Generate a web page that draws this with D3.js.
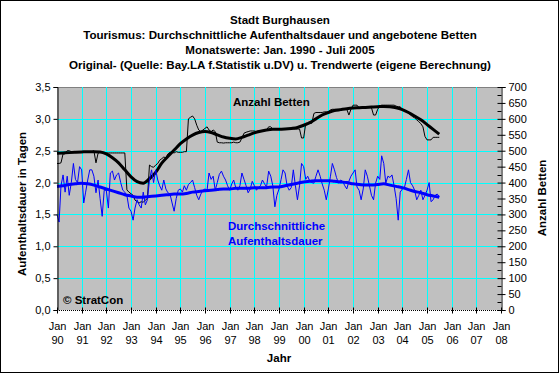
<!DOCTYPE html>
<html><head><meta charset="utf-8">
<script src="https://cdn.jsdelivr.net/npm/d3@7"></script>
<style>
body{margin:0;background:#fff}
svg{display:block}
text{font-family:"Liberation Sans",Arial,sans-serif}
</style>
</head><body>
<svg id="chart" width="560" height="374"></svg>
<script>
// ---------- DATA ----------
const titleLines = [
  "Stadt Burghausen",
  "Tourismus: Durchschnittliche Aufenthaltsdauer und angebotene Betten",
  "Monatswerte: Jan. 1990 - Juli 2005",
  "Original- (Quelle: Bay.LA f.Statistik u.DV) u. Trendwerte (eigene Berechnung)"
];
const startDate = new Date(1990, 0, 1);
// monthly average length of stay (days), Jan 1990 - Jul 2005
const dauer = [
  1.50,1.38,1.95,2.12,1.85,2.10,1.80,2.00,2.30,2.05,2.00,2.25,
  2.20,1.68,1.85,2.04,2.20,2.20,2.10,1.84,2.04,1.75,1.47,1.88,
  1.88,1.60,2.15,2.18,2.04,2.12,2.15,2.00,1.88,1.85,1.80,1.60,
  1.55,1.41,1.60,1.73,1.65,1.60,1.85,1.65,1.73,2.04,2.20,2.00,
  2.20,2.04,1.95,1.88,2.04,1.90,1.84,1.82,1.68,1.55,1.75,1.88,
  1.90,1.85,1.95,1.88,1.97,2.00,2.04,1.92,1.80,1.73,1.82,1.88,
  1.90,1.88,2.15,2.05,2.10,1.88,2.00,2.13,2.18,2.10,2.04,1.95,
  1.88,1.98,2.04,1.92,1.88,1.95,2.15,2.05,1.95,1.84,1.90,2.02,
  1.95,1.88,1.92,1.95,2.04,1.98,1.93,2.18,2.10,1.95,1.62,1.80,
  1.90,2.05,2.20,2.15,1.95,1.88,1.92,2.20,1.95,1.73,1.95,2.30,
  2.25,2.05,2.10,2.02,2.00,1.99,2.10,2.20,2.10,1.98,1.88,1.73,
  1.90,2.10,2.30,2.20,2.08,1.99,2.04,2.02,1.95,1.90,2.02,2.10,
  2.15,2.20,1.93,1.88,1.73,1.90,2.20,2.10,1.95,1.80,1.73,1.99,
  2.10,2.05,2.42,2.30,1.99,2.10,2.08,2.12,1.95,1.75,1.41,1.85,
  1.90,1.92,2.05,2.20,2.00,1.95,1.88,1.73,1.80,1.88,1.73,1.80,
  1.88,2.00,1.70,1.73,1.80,1.82,1.78
];
// monthly beds offered
const betten = [
  460,460,462,490,490,500,500,497,497,497,497,497,
  495,495,495,495,495,497,500,462,492,495,495,495,
  493,493,493,493,493,493,493,493,493,493,377,370,
  365,360,345,340,336,340,338,345,350,455,450,448,
  455,460,470,475,480,478,490,495,495,493,497,495,
  495,495,497,497,600,605,609,600,580,565,560,565,
  570,575,565,560,565,560,527,525,525,524,525,525,
  525,525,527,525,525,527,540,555,558,560,562,562,
  562,560,562,562,562,562,565,575,575,568,568,568,
  568,568,568,568,568,568,568,568,568,568,568,540,
  540,586,586,586,586,617,620,620,620,620,622,622,
  622,628,630,630,630,630,630,630,630,630,612,630,
  643,643,643,635,635,635,635,635,635,635,612,612,
  630,640,643,643,643,643,643,643,643,640,638,638,
  628,628,622,618,612,607,603,597,591,585,575,545,
  534,534,534,542,542,542,542
];
// trend values, every 3rd month
const trendStepMonths = 3;
const dauerTrend = [
  1.94,1.95,1.97,1.98,1.99,1.98,1.96,1.93,1.90,1.87,1.84,1.81,
  1.79,1.77,1.77,1.78,1.79,1.80,1.81,1.82,1.82,1.83,1.85,1.86,
  1.87,1.88,1.89,1.90,1.90,1.91,1.91,1.91,1.92,1.92,1.92,1.93,
  1.93,1.95,1.97,1.99,2.01,2.02,2.03,2.03,2.03,2.02,2.01,2.00,
  1.98,1.97,1.96,1.96,1.97,1.98,1.96,1.94,1.92,1.89,1.86,1.84,
  1.81,1.79,1.77
];
const bettenTrend = [
  492,493,494,495,496,497,497,496,490,478,462,440,
  418,403,398,412,432,461,482,502,522,537,549,557,
  560,557,550,543,539,537,542,549,556,561,565,567,
  567,568,570,573,580,588,600,612,620,626,629,632,
  634,635,636,637,638,639,638,635,629,620,609,597,
  582,567,552
];
const yearTicks = d3.range(1990, 2009);
const leftTicks = [0, 0.5, 1, 1.5, 2, 2.5, 3, 3.5];
const rightTicks = d3.range(0, 701, 50);
const rightMinorTicks = d3.range(25, 700, 50);
const labels = {
  yLeft: "Aufenthaltsdauer in Tagen",
  yRight: "Anzahl Betten",
  x: "Jahr",
  betten: "Anzahl Betten",
  dauer: ["Durchschnittliche", "Aufenthaltsdauer"],
  copyright: "\u00A9 StratCon"
};

// ---------- LAYOUT ----------
const L = 57, R = 501, T = 87, B = 310;
const svg = d3.select("#chart");
const fmt = v => d3.format(".1f")(v).replace(".", ",");

const x = d3.scaleTime().domain([new Date(1990,0,1), new Date(2008,0,1)]).range([L, R]);
const yL = d3.scaleLinear().domain([0, 3.5]).range([B, T]);
const yR = d3.scaleLinear().domain([0, 700]).range([B, T]);

const monthDate = i => d3.timeMonth.offset(startDate, i);

// outer frame
svg.append("rect").attr("x",0.5).attr("y",0.5).attr("width",558).attr("height",372)
  .attr("fill","#fff").attr("stroke","#000");

// title
svg.append("g").selectAll("text").data(titleLines).join("text")
  .attr("x", 280).attr("y", (d,i) => 23.5 + i*15)
  .attr("text-anchor","middle").attr("font-size","11.6px").attr("font-weight","bold")
  .text(d => d);

// plot area
svg.append("rect").attr("x",L).attr("y",T).attr("width",R-L).attr("height",B-T)
  .attr("fill","#C0C0C0");
svg.append("line").attr("x1",L).attr("x2",R).attr("y1",T+0.5).attr("y2",T+0.5)
  .attr("stroke","#808080");

// grid
const grid = svg.append("g").attr("stroke","#00FFFF").attr("stroke-width",1);
grid.selectAll("line.h").data(leftTicks.filter(v => v > 0 && v < 3.5)).join("line")
  .attr("x1",L).attr("x2",R).attr("y1",d => Math.round(yL(d))+0.5).attr("y2",d => Math.round(yL(d))+0.5);
grid.selectAll("line.v").data(yearTicks.filter(y => y > 1990 && y < 2008)).join("line")
  .attr("y1",T).attr("y2",B).attr("x1",d => Math.round(x(new Date(d,0,1)))+0.5).attr("x2",d => Math.round(x(new Date(d,0,1)))+0.5);

// series
const lineMonthly = scale => d3.line().x((d,i) => x(monthDate(i))).y(d => scale(d));
const lineTrend = scale => d3.line().x((d,i) => x(monthDate(i*trendStepMonths))).y(d => scale(d)).curve(d3.curveMonotoneX);

svg.append("path").datum(betten).attr("d", lineMonthly(yR)).attr("fill","none").attr("stroke","#000").attr("stroke-width",1);
svg.append("path").datum(bettenTrend).attr("d", lineTrend(yR)).attr("fill","none").attr("stroke","#000").attr("stroke-width",3);
svg.append("path").datum(dauer).attr("d", lineMonthly(yL)).attr("fill","none").attr("stroke","#0000FF").attr("stroke-width",1);
svg.append("path").datum(dauerTrend).attr("d", lineTrend(yL)).attr("fill","none").attr("stroke","#0000FF").attr("stroke-width",3);

// left axis
const gL = svg.append("g").attr("transform",`translate(${L+0.5},0)`)
  .call(d3.axisLeft(yL).tickValues(leftTicks).tickFormat(fmt).tickSize(4).tickPadding(3));
gL.select(".domain").attr("stroke","#000");
gL.selectAll("text").attr("font-size","11px").attr("font-family","'Liberation Sans',Arial,sans-serif").attr("fill","#000");

// right axis
const gR = svg.append("g").attr("transform",`translate(${R+0.5},0)`)
  .call(d3.axisRight(yR).tickValues(rightTicks).tickSize(4).tickPadding(3));
gR.select(".domain").attr("stroke","#000");
gR.selectAll(".tick line").attr("x1",-4);
gR.selectAll("text").attr("font-size","11px").attr("font-family","'Liberation Sans',Arial,sans-serif").attr("fill","#000");
gR.selectAll("line.minor").data(rightMinorTicks).join("line").attr("class","minor")
  .attr("x1",-4).attr("x2",0).attr("y1",d => Math.round(yR(d))+0.5).attr("y2",d => Math.round(yR(d))+0.5).attr("stroke","#000");

// bottom axis
const gB = svg.append("g").attr("transform",`translate(0,${B+0.5})`);
gB.append("line").attr("x1",L).attr("x2",R).attr("stroke","#000").attr("stroke-dasharray","1,1");
const tk = gB.selectAll("g.t").data(yearTicks).join("g").attr("class","t")
  .attr("transform", d => `translate(${Math.round(x(new Date(d,0,1)))+0.5},0)`);
tk.append("line").attr("y1",-3).attr("y2",3).attr("stroke","#000");
tk.append("text").attr("y",19).attr("text-anchor","middle").attr("font-size","11px").text("Jan");
tk.append("text").attr("y",33).attr("text-anchor","middle").attr("font-size","11px").text(d => String(d % 100).padStart(2,"0"));

// axis titles
svg.append("text").attr("transform","translate(26,204) rotate(-90)").attr("text-anchor","middle")
  .attr("font-size","11.5px").attr("font-weight","bold").text(labels.yLeft);
svg.append("text").attr("transform","translate(546,198) rotate(-90)").attr("text-anchor","middle")
  .attr("font-size","11.5px").attr("font-weight","bold").text(labels.yRight);
svg.append("text").attr("x",279).attr("y",362).attr("text-anchor","middle")
  .attr("font-size","11.5px").attr("font-weight","bold").text(labels.x);

// annotations
svg.append("text").attr("x",233).attr("y",106).attr("font-size","11.5px").attr("font-weight","bold").text(labels.betten);
svg.append("g").selectAll("text").data(labels.dauer).join("text")
  .attr("x",228).attr("y",(d,i) => 230 + i*14.5).attr("font-size","11.5px").attr("font-weight","bold")
  .attr("fill","#0000FF").text(d => d);
svg.append("text").attr("x",63).attr("y",304).attr("font-size","11.5px").attr("font-weight","bold").text(labels.copyright);
</script>
</body></html>
